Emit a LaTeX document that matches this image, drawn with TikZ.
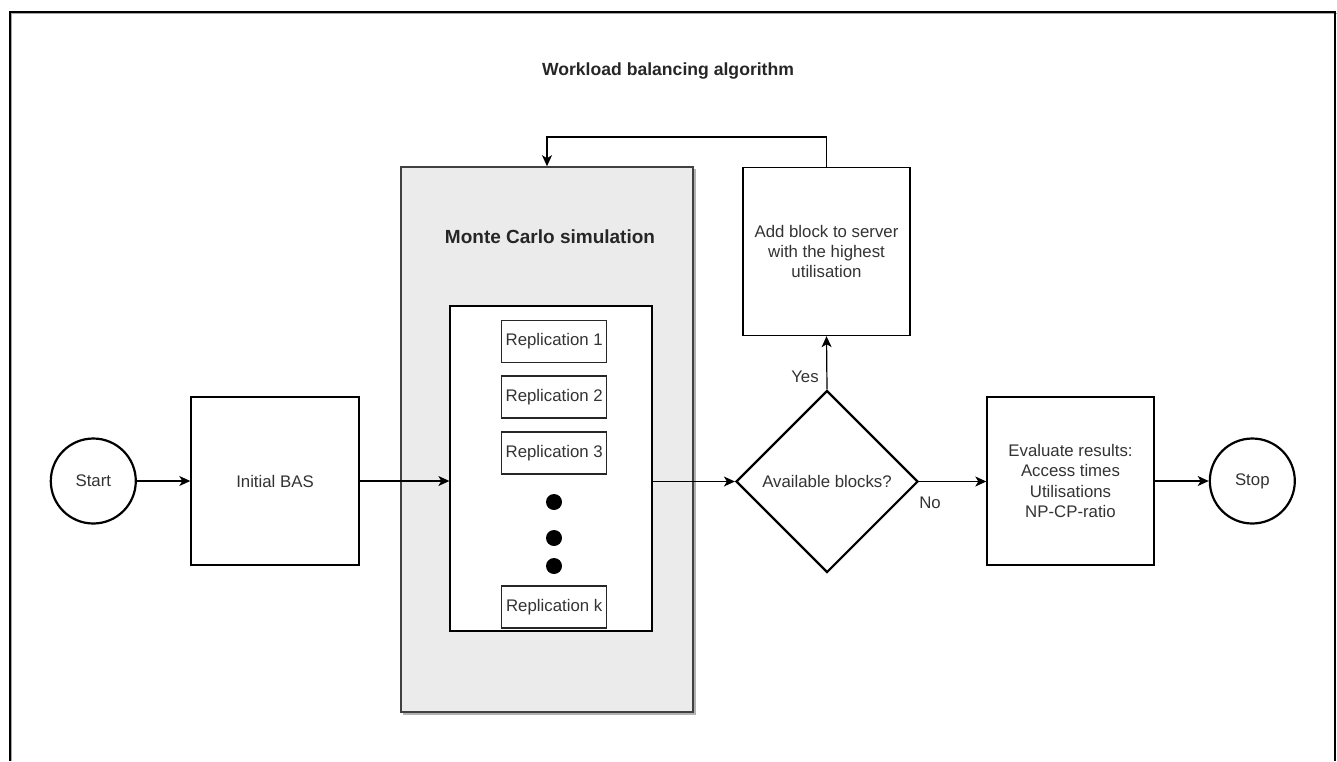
\documentclass[tikz,border=0pt]{standalone}
\usepackage{fontspec}
\setmainfont{Liberation Sans}
\usetikzlibrary{shapes.geometric,arrows.meta}
\newcommand{\bodysize}{\fontsize{16.8}{20.3}\selectfont}
\begin{document}
\begin{tikzpicture}[x=1pt,y=-1pt,
  txt/.style={text=black!80, font=\bodysize, align=center},
  flowbox/.style={txt, draw=black, line width=1.4pt, fill=white, inner sep=0pt,
    minimum width=167pt, minimum height=168pt},
  term/.style={txt, circle, draw=black, line width=2.2pt, fill=white,
    minimum size=85pt, inner sep=0pt},
  repbox/.style={txt, draw=black!85, line width=1.3pt, fill=white, inner sep=0pt,
    minimum width=105pt, minimum height=42pt},
  decision/.style={txt, diamond, aspect=1, draw=black, line width=2.2pt, fill=white,
    minimum width=182pt, minimum height=182pt, inner sep=0pt},
  bigdot/.style={circle, fill=black, inner sep=0pt, minimum size=16pt},
  arr/.style={line width=1.2pt, -{Stealth[length=11pt,width=10pt,inset=3pt]}},
  shade/.style={draw=black!35, line width=1.2pt}
]
\useasboundingbox (0,0) rectangle (1337,761);

% outer frame (open at the bottom), with a faint shadow line
\draw[shade] (11.5,761) -- (11.5,13.5) -- (1336.5,13.5);
\draw[line width=1.8pt] (10,761) -- (10,12) -- (1335,12) -- (1335,761);

% title
\node[font=\fontsize{17.6}{20}\selectfont\bfseries, text=black!85] (title) at (668,71) {Workload balancing algorithm};

% Monte Carlo container
\fill[black!30] (403,169) rectangle (695.5,714.5);
\node[draw=black!75, line width=1.6pt, fill=black!8, minimum width=292pt, minimum height=545pt,
  inner sep=0pt] (mc) at (547,439.5) {};
\node[font=\fontsize{19}{22}\selectfont\bfseries, text=black!85] (mctitle) at (550,237) {Monte Carlo simulation};
\node[draw=black, line width=1.3pt, fill=white, minimum width=202pt, minimum height=325pt,
  inner sep=0pt] (inner) at (551,468.5) {};

% replications
\node[repbox] (rep1) at (554.2,341.5) {Replication 1};
\node[repbox] (rep2) at (554.2,397) {Replication 2};
\node[repbox] (rep3) at (554.2,453) {Replication 3};
\node[bigdot] (dot1) at (554,502) {};
\node[bigdot] (dot2) at (554,538) {};
\node[bigdot] (dot3) at (554,566) {};
\node[repbox] (repk) at (554.2,607) {Replication k};

% main flow
\node[term] (start) at (93.3,481) {Start};
\node[flowbox, minimum width=168pt] (bas) at (275,481) {Initial BAS};
\node[decision] (dec) at (827,481.5) {Available blocks?};
\node[flowbox] (add) at (826.5,251.5) {Add block to server\\with the highest\\utilisation};
\node[flowbox] (eval) at (1070.5,481) {Evaluate results:\\Access times\\Utilisations\\NP-CP-ratio};
\node[term] (stop) at (1252.3,481) {Stop};

% connectors
\coordinate (looptop) at (0,137);
\draw[arr] (start) -- (bas);
\draw[arr] (bas.east) -- (bas.east -| inner.west);
\draw[arr] (dec.west -| inner.east) -- (dec.west);
\draw[arr] (dec.east) -- (dec.east -| eval.west);
\draw[arr] (eval.east) -- (stop.west);
\draw[arr] (dec.north) -- (add.south);
\draw[arr] (add.north) |- (mc.north |- looptop) -- (mc.north);

% branch labels
\node[txt] (yes) at (805,377) {Yes};
\node[txt] (no) at (930,503) {No};
\end{tikzpicture}
\end{document}
